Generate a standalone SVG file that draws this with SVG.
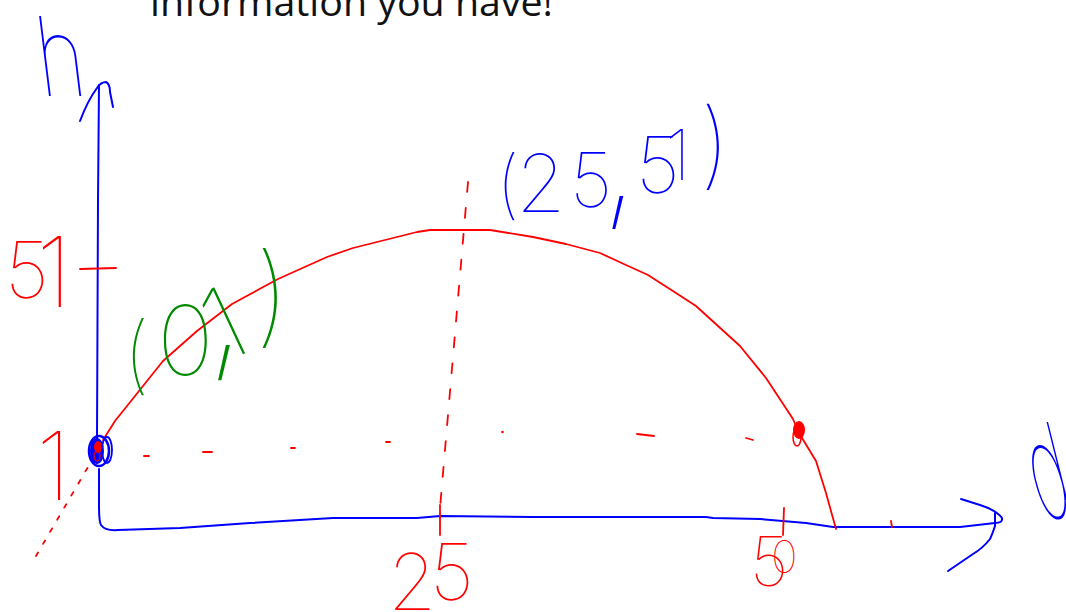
<svg xmlns="http://www.w3.org/2000/svg" width="1066" height="612" viewBox="0 0 1066 612">
<style>
.ax{fill:none;stroke:#0000ff;stroke-width:2;stroke-linecap:round;stroke-linejoin:round}
.rd{fill:none;stroke:#ff0000;stroke-width:1.8;stroke-linecap:round;stroke-linejoin:round}
.hw{font-family:"Inter","Lato","DejaVu Sans",sans-serif;font-weight:100}
.blue{fill:#0000ff}
.red{fill:#ff0000}
.green{fill:#008a00}
</style>
<rect width="1066" height="612" fill="#ffffff"/>
<text x="150" y="16" font-family="Open Sans, Liberation Sans, sans-serif" font-size="38" fill="#111" textLength="403" lengthAdjust="spacingAndGlyphs">information you have!</text>

<g id="axes">
<path class="ax" d="M99,85 L98,200 L97,440 M99,469 L99,505 Q99,522 101,525 Q105,531 118,530 L180,528 L250,523 L333,518 L417,518 L440,516 L533,517 L706,517 L713,518 L760,519 L806,523 L833,527 L960,527 L995,523"/>
<path class="ax" d="M80,121 Q88,100 97,88 Q101,82 106,82 Q110,84 110,92 L113,107"/>
<path class="ax" d="M961,499 L980,505 Q996,510 1002,518 Q1003,523 995,523"/>
<path class="ax" d="M995,513 L995,526 Q992,535 990,539 Q983,548 973,554 L948,571"/>
</g>

<g id="guides">
<path class="rd" d="M36,556 L95,455" stroke-dasharray="4 10"/>
<path class="rd" d="M468,182 L440,508" stroke-dasharray="10 16"/>
<g class="rd">
<path d="M144,456 L149,456"/>
<path d="M203,452 L212,452"/>
<path d="M291,448 L295,448"/>
<path d="M386,442 L390,442"/>
<path d="M502,432 L503,432"/>
<path d="M637,434 L654,436"/>
<path d="M746,438 L753,440"/>
</g>
<path class="rd" d="M80,269 L116,268" stroke-width="2"/>
<path class="rd" d="M440,505 L440,535" stroke-width="2.6"/>
<path class="rd" d="M784,508 L783,535" stroke-width="2.2"/>
<path class="rd" d="M891,521 L892,527"/>
</g>

<g id="curve">
<polyline class="rd" points="103,440 115,421 143,386 163,361 197,331 232,304 278,279 327,257 353,248 417,232 430,230 490,230 533,237 566,244 600,253 626,265 648,275 676,293 696,306 740,346 766,378 793,419 799,433 816,461 826,493 836,529"/>
<ellipse cx="799" cy="430" rx="6" ry="9" fill="#ff0000"/>
<ellipse cx="797" cy="437" rx="4" ry="9" fill="none" stroke="#ff0000" stroke-width="1.5"/>
</g>

<g id="origin">
<ellipse cx="97" cy="451" rx="7" ry="13" fill="#0000ff"/>
<ellipse cx="98" cy="447" rx="4" ry="6" fill="#ff0000"/>
<ellipse cx="97" cy="456" rx="3" ry="5" fill="none" stroke="#ff0000" stroke-width="1.2"/>
<ellipse cx="99" cy="451" rx="10" ry="15" fill="none" stroke="#0000ff" stroke-width="2.5"/>
<ellipse cx="107" cy="450" rx="5" ry="13" fill="none" stroke="#0000ff" stroke-width="1.8"/>
</g>

<g id="labels">
<text class="hw blue" font-size="110" transform="translate(41,96) skewX(7) scale(0.75,1)">h</text>
<text class="hw blue" font-size="120" transform="translate(1040,518) skewX(14) scale(0.55,1.1)">d</text>
<text class="hw red"><tspan x="5" y="298" font-size="78">5</tspan><tspan x="36" y="307" font-size="98">1</tspan></text>
<text class="hw red" x="36" y="500" font-size="95">1</text>
<text class="hw red" font-size="78"><tspan x="388" y="610">2</tspan><tspan x="430" y="600">5</tspan></text>
<text class="hw red"><tspan x="750" y="586" font-size="68">5</tspan><tspan x="771" y="573" font-size="45">0</tspan></text>
<text class="hw green"><tspan x="123" y="384" font-size="85">(</tspan><tspan x="157" y="375" font-size="96">0</tspan><tspan x="205" y="357" font-size="160">,</tspan><tspan x="222" y="364" font-size="100" rotate="-25">1</tspan><tspan x="255" y="333" font-size="110">)</tspan></text>
<text class="hw blue"><tspan x="496" y="210" font-size="75">(</tspan><tspan x="516" y="212" font-size="80">2</tspan><tspan x="570" y="207" font-size="75">5</tspan><tspan x="600" y="207" font-size="150">,</tspan><tspan x="636" y="193" font-size="78">5</tspan><tspan x="665" y="180" font-size="70">1</tspan><tspan x="700" y="177" font-size="95">)</tspan></text>
</g>
</svg>
